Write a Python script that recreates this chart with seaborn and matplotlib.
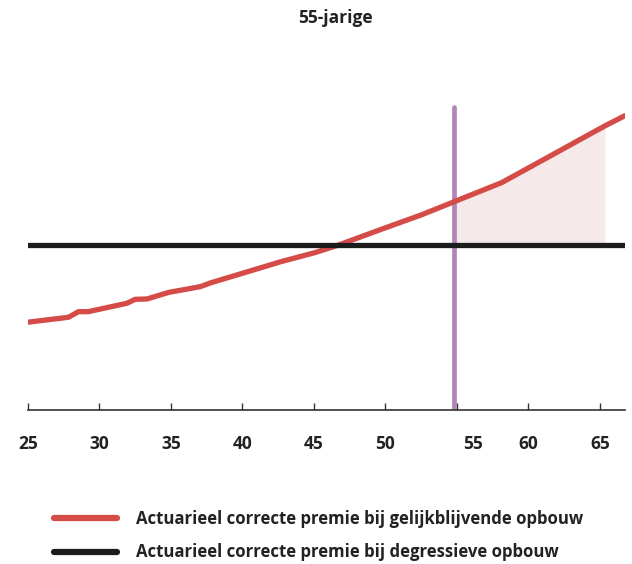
import numpy as np
import pandas as pd
import matplotlib
matplotlib.use("Agg")
import matplotlib.pyplot as plt
import matplotlib.transforms as mtransforms
import seaborn as sns

# ---- data ----
red_ages = [25.0, 27.85, 28.55, 29.24, 31.94, 32.52, 33.35, 34.86, 36.15, 37.08,
            37.8, 40.37, 42.7, 45.04, 46.67, 49.71, 52.5, 54.8, 58.13, 61.64,
            63.96, 65.35, 66.75]
red_vals = [0.532, 0.562, 0.596, 0.596, 0.647, 0.671, 0.673, 0.713, 0.733, 0.748,
            0.771, 0.838, 0.899, 0.953, 0.998, 1.095, 1.182, 1.262, 1.378, 1.545,
            1.656, 1.722, 1.784]
black_ages = [25.0, 66.75]
black_vals = [1.0, 1.0]
marker_age = 54.8
marker_top = 1.838
shade_start = 54.8
shade_end = 65.35
xticks = [25, 30, 35, 40, 45, 50, 55, 60, 65]
title = "55-jarige"
label_red = "Actuarieel correcte premie bij gelijkblijvende opbouw"
label_black = "Actuarieel correcte premie bij degressieve opbouw"

RED = "#D44B48"
BLACK = "#1C1C1C"
PURPLE = "#B186B6"
SHADE = "#F5E9E9"

sns.set_theme(style="white")
plt.rcParams["font.family"] = ["Open Sans", "DejaVu Sans"]

fig = plt.figure(figsize=(6.32, 5.64), dpi=100)
ax = fig.add_axes([27.7 / 632, 1 - 410 / 564, (625 - 27.7) / 632, (410 - 100) / 564])

df = pd.DataFrame({
    "age": red_ages + black_ages,
    "value": red_vals + black_vals,
    "series": [label_red] * len(red_ages) + [label_black] * len(black_ages),
})

ra = np.array(red_ages)
rv = np.array(red_vals)
mask = (ra >= shade_start) & (ra <= shade_end)
ax.fill_between(ra[mask], 1.0, rv[mask], color=SHADE, lw=0, zorder=1)

ax.plot([marker_age, marker_age], [0, marker_top], color=PURPLE, lw=3.4,
        solid_capstyle="round", zorder=2)

sns.lineplot(data=df, x="age", y="value", hue="series",
             palette={label_red: RED, label_black: BLACK},
             hue_order=[label_red, label_black],
             lw=3.8, ax=ax, legend=True, zorder=3, sort=True)
for ln in ax.get_lines():
    ln.set_solid_capstyle("round")
    ln.set_solid_joinstyle("round")

ax.set_xlim(25, 66.75)
ax.set_ylim(0, (410 - 100) / 165)
ax.set_xticks(xticks)
ax.set_xticklabels([str(t) for t in xticks], fontsize=12.5, fontweight="bold", color="#222222")
ax.set_yticks([])
ax.set_xlabel("")
ax.set_ylabel("")
for s in ["top", "right", "left"]:
    ax.spines[s].set_visible(False)
ax.spines["bottom"].set_color("#333333")
ax.spines["bottom"].set_linewidth(1.2)
ax.tick_params(axis="x", direction="in", length=5, width=1, color="#333333",
               pad=18, bottom=True)

handles, labels = ax.get_legend_handles_labels()
ax.get_legend().remove()

# shift the "55" label to the right, as in the original
fig.canvas.draw()
for lab in ax.get_xticklabels():
    if lab.get_text() == "55":
        off = mtransforms.ScaledTranslation(16 / 100, 0, fig.dpi_scale_trans)
        lab.set_transform(lab.get_transform() + off)

fig.text(335 / 632, 1 - 18 / 564, title, ha="center", va="center",
         fontsize=12.5, fontweight="bold", color="#222222")

for h in handles:
    h.set_linewidth(4.5)
leg = fig.legend(handles, labels, loc="center left",
                 bbox_to_anchor=(54 / 632, 1 - 535.5 / 564),
                 frameon=False, borderpad=0, borderaxespad=0,
                 handlelength=3.75, handletextpad=1.1, labelspacing=0.95,
                 prop={"family": ["Open Sans", "DejaVu Sans"], "weight": "bold", "size": 12.1})
for t in leg.get_texts():
    t.set_color("#222222")

fig.savefig("out.png", dpi=100)
